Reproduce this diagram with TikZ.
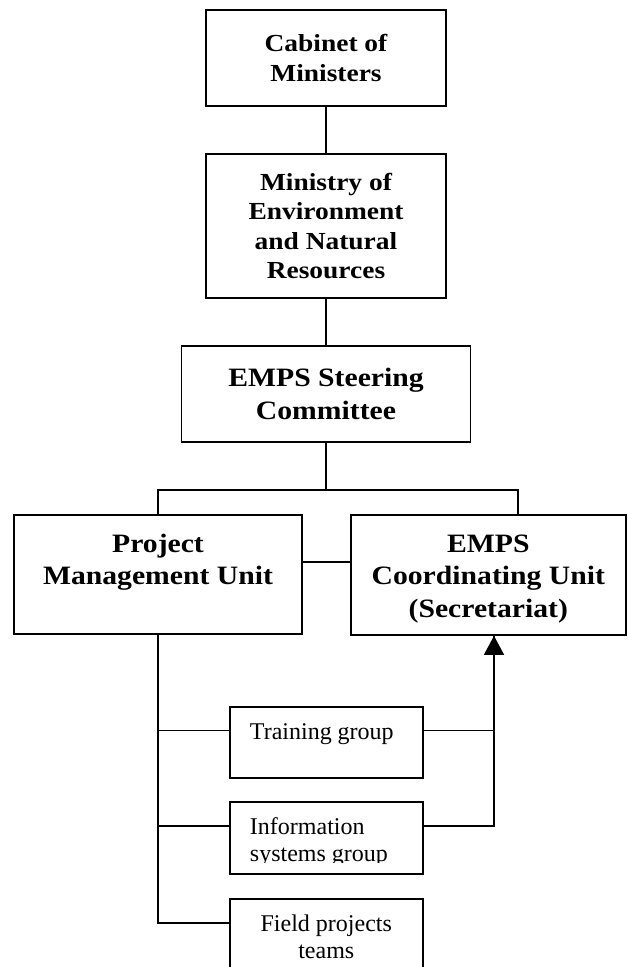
\documentclass[tikz,border=0pt]{standalone}
\usepackage{fontspec}
\setmainfont{Liberation Serif}
\newfontfamily\headfont{Liberation Serif}[FakeStretch=1.12]
\usetikzlibrary{calc,arrows.meta}

\tikzset{
  box/.style={draw, line width=1.7pt, inner sep=0pt, align=center},
  topbox/.style={box, font=\headfont\bfseries\fontsize{24.5}{29.6}\selectfont},
  unitbox/.style={box, font=\headfont\bfseries\fontsize{26.5}{32.5}\selectfont},
  groupbox/.style={box, font=\fontsize{24}{27}\selectfont},
  link/.style={line width=1.7pt}
}

%% text hanging from the top of a box: width, height, first baseline, text
\newcommand{\toptext}[4]{\parbox[c][#2][t]{#1}{\centering\rule{0pt}{#3}#4}}
\newcommand{\lefttext}[4]{\parbox[c][#2][t]{#1}{\raggedright\leftskip=20pt\rule{0pt}{#3}#4}}

\begin{document}
\begin{tikzpicture}[x=1pt,y=-1pt]
  \useasboundingbox (0,0) rectangle (627,967);

  %% Upper chain
  \node[topbox, minimum width=240, minimum height=96] (cab) at (326,58)
    {Cabinet of\\Ministers};
  \node[topbox, minimum width=240, minimum height=143.7] (min) at (326,226)
    {Ministry of\\Environment\\and Natural\\Resources};
  \node[unitbox, minimum width=289, minimum height=96] (steer) at (326,394)
    {EMPS Steering\\Committee};

  \draw[link] (cab) -- (min);
  \draw[link] (min) -- (steer);

  %% The two units
  \node[unitbox] (pmu) at (158,574.5)
    {\toptext{288pt}{119pt}{37pt}{Project\\Management Unit}};
  \node[unitbox] (ecu) at (488.3,575)
    {\toptext{275.3pt}{120pt}{37pt}{EMPS\\Coordinating Unit\\(Secretariat)}};

  \coordinate (fork) at (326,490);
  \draw[link] (steer) -- (fork);
  \draw[link] (pmu.north) |- (fork) -| ($(ecu.north)+(30,0)$);
  \draw[link] ($(pmu.east)+(0,-12.5)$) -- ($(ecu.west)+(0,-13)$);

  %% Groups under the PMU
  \node[groupbox] (train) at (326.3,742.5)
    {\lefttext{192.7pt}{71.6pt}{32.6pt}{Training group}};
  \node[box, minimum width=192.7, minimum height=72.3] (info) at (326.3,838.1) {};
  \begin{scope}
    \clip (info.north west) rectangle ($(info.east)+(0,24.8)$);
    \node[groupbox, draw=none] (infotxt) at (info.center)
      {\lefttext{192.7pt}{72.3pt}{33pt}{Information\\systems group}};
  \end{scope}
  \node[groupbox] (field) at (326.3,935)
    {\toptext{192.7pt}{72pt}{32.7pt}{Field projects\\teams}};

  \foreach \n in {train,info,field}
  {
    \draw[link] (pmu.south) |- ($(\n.west)+(0,-12)$);
  }

  %% Reporting line to the secretariat
  \coordinate (up) at ($(ecu.south)+(5.7,0)$);
  \draw[link] ($(train.east)+(0,-12)$) -| (up);
  \draw[link, -{Triangle[length=19pt,width=20pt]}] ($(info.east)+(0,-12)$) -| (up);

\end{tikzpicture}
\end{document}
